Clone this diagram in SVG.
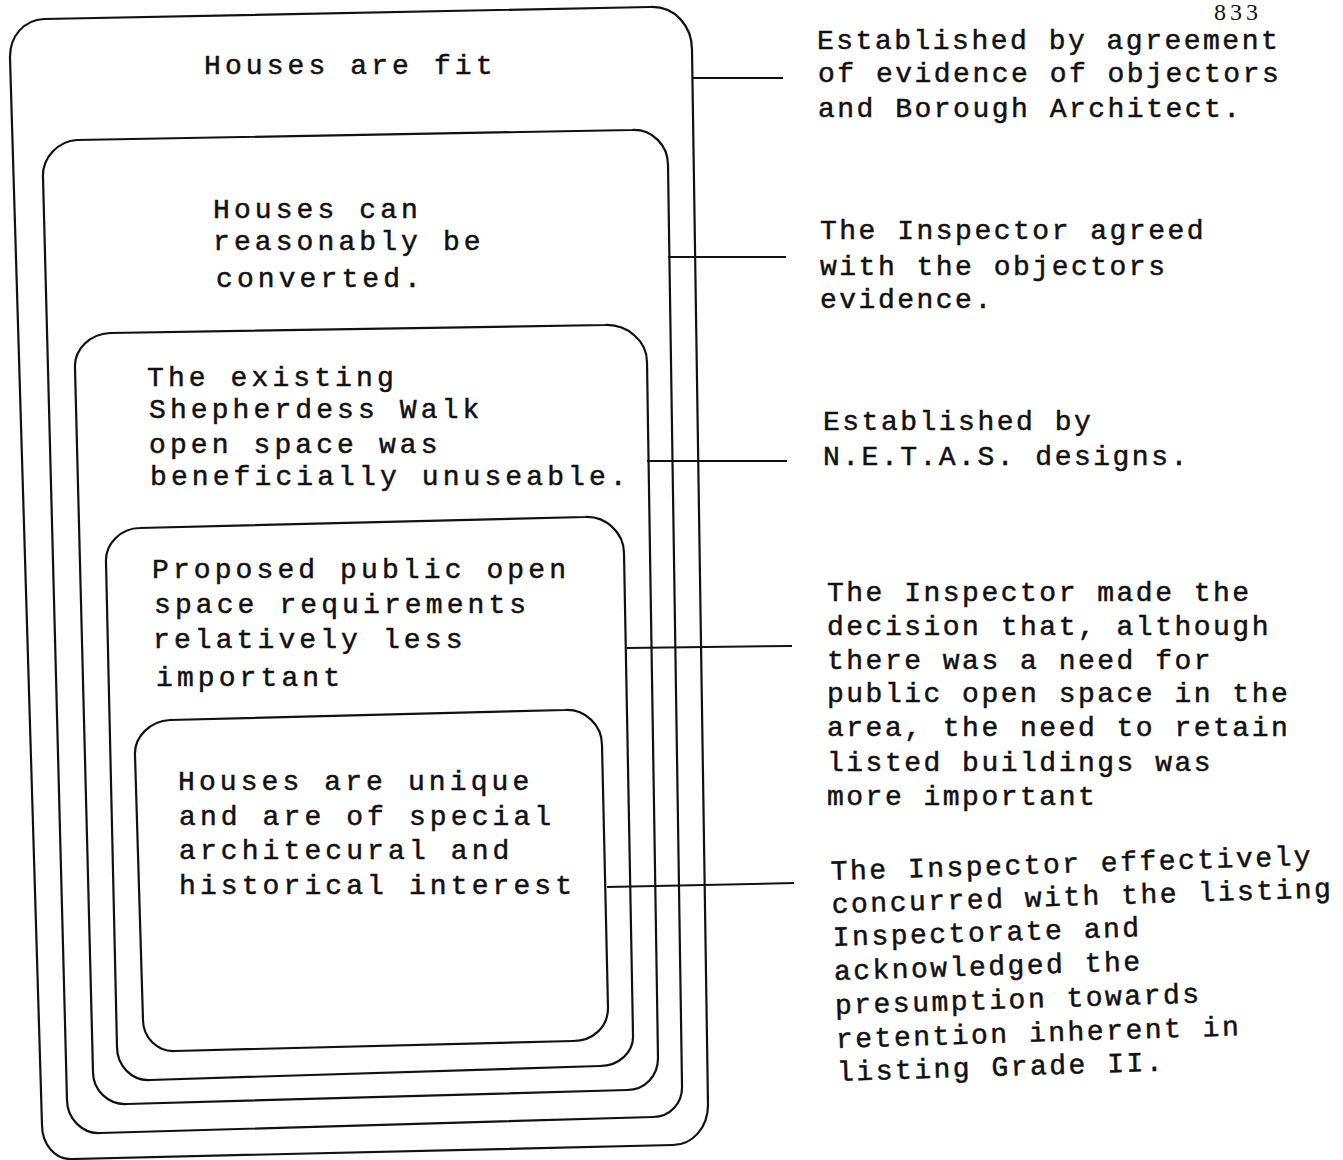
<svg xmlns="http://www.w3.org/2000/svg" width="1343" height="1160" viewBox="0 0 1343 1160">
  <style>
    .box { fill: none; stroke: #111; stroke-width: 2.2; stroke-linejoin: round; }
    .link { fill: none; stroke: #111; stroke-width: 2; }
    .t { font-family: "Liberation Mono", "Courier New", monospace; font-size: 28px; fill: #111; stroke: #111; stroke-width: 0.5px; }
    .in { letter-spacing: 4.1px; }
    .note { letter-spacing: 2.5px; }
    .pg { font-family: "Liberation Serif", "Times New Roman", serif; font-size: 24px; letter-spacing: 4px; fill: #111; }
  </style>

  <!-- page number in the top corner -->
  <text class="pg" x="1214" y="20">833</text>

  <!-- nested boxes, outermost first -->
  <g id="node-fit">
    <path class="box" d="M10,58 C9.5,36 24,20 44,19 L650,7 C675,6 692,26 692,50 L708,1105 C708,1128 692,1145 673,1145 L72,1159 C55,1160 42,1144 42,1125 Z"/>
    <text class="t in" x="204" y="74">Houses are fit</text>
  </g>

  <g id="node-convert">
    <path class="box" d="M43,177 C42,158 58,141 77,140 L632,130 C652,129 668,145 668,165 L682,1085 C683,1103 670,1117 653,1117 L100,1133 C82,1134 67,1118 67,1100 Z"/>
    <text class="t in" x="213" y="218">Houses can</text>
    <text class="t in" x="213" y="250">reasonably be</text>
    <text class="t in" x="216" y="287">converted.</text>
  </g>

  <g id="node-openspace">
    <path class="box" d="M75,368 C74,349 90,334 110,333 L605,325 C627,324 647,341 647,362 L658,1058 C658,1076 645,1090 627,1090 L127,1104 C108,1105 93,1090 93,1072 Z"/>
    <text class="t in" x="147" y="386">The existing</text>
    <text class="t in" x="149" y="418">Shepherdess Walk</text>
    <text class="t in" x="149" y="453">open space was</text>
    <text class="t in" x="150" y="485">beneficially unuseable.</text>
  </g>

  <g id="node-public">
    <path class="box" d="M106,562 C105,544 121,528 140,528 L585,517 C606,516 624,533 624,553 L633,1035 C634,1052 619,1066 600,1066 L150,1080 C131,1081 117,1065 117,1047 Z"/>
    <text class="t in" x="152" y="578">Proposed public open</text>
    <text class="t in" x="154" y="613">space requirements</text>
    <text class="t in" x="153" y="648">relatively less</text>
    <text class="t in" x="156" y="686">important</text>
  </g>

  <g id="node-listed">
    <path class="box" d="M135,755 C134,737 150,721 170,720 L565,710 C585,709 602,725 602,745 L608,1008 C608,1027 593,1041 573,1041 L175,1051 C157,1052 143,1037 143,1020 Z"/>
    <text class="t in" x="178" y="790">Houses are unique</text>
    <text class="t in" x="179" y="825">and are of special</text>
    <text class="t in" x="179" y="859">architecural and</text>
    <text class="t in" x="179" y="894">historical interest</text>
  </g>

  <!-- leader lines from each box edge to its note -->
  <g id="connectors">
    <line class="link" x1="692" y1="78" x2="783" y2="78"/>
    <line class="link" x1="668" y1="257" x2="786" y2="257"/>
    <line class="link" x1="647" y1="461" x2="787" y2="461"/>
    <line class="link" x1="627" y1="648" x2="792" y2="646"/>
    <line class="link" x1="607" y1="887" x2="794" y2="883"/>
  </g>

  <!-- notes -->
  <g id="note-fit">
    <text class="t note" x="817" y="49">Established by agreement</text>
    <text class="t note" x="818" y="82">of evidence of objectors</text>
    <text class="t note" x="818" y="117">and Borough Architect.</text>
  </g>
  <g id="note-convert">
    <text class="t note" x="820" y="239">The Inspector agreed</text>
    <text class="t note" x="820" y="275">with the objectors</text>
    <text class="t note" x="820" y="308">evidence.</text>
  </g>
  <g id="note-openspace">
    <text class="t note" x="823" y="430">Established by</text>
    <text class="t note" x="823" y="465">N.E.T.A.S. designs.</text>
  </g>
  <g id="note-public">
    <text class="t note" x="827" y="601">The Inspector made the</text>
    <text class="t note" x="827" y="635">decision that, although</text>
    <text class="t note" x="827" y="669">there was a need for</text>
    <text class="t note" x="827" y="702">public open space in the</text>
    <text class="t note" x="827" y="736">area, the need to retain</text>
    <text class="t note" x="827" y="771">listed buildings was</text>
    <text class="t note" x="827" y="805">more important</text>
  </g>
  <g id="note-listed" transform="rotate(-1.8 831 880)">
    <text class="t note" x="831" y="880">The Inspector effectively</text>
    <text class="t note" x="831" y="913">concurred with the listing</text>
    <text class="t note" x="831" y="946">Inspectorate and</text>
    <text class="t note" x="831" y="980">acknowledged the</text>
    <text class="t note" x="831" y="1014">presumption towards</text>
    <text class="t note" x="831" y="1048">retention inherent in</text>
    <text class="t note" x="831" y="1081">listing Grade II.</text>
  </g>
</svg>
